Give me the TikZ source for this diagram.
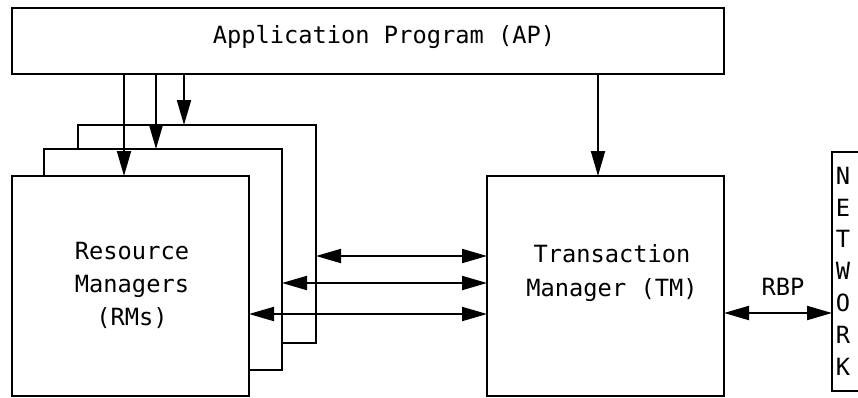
\documentclass[tikz,border=0pt]{standalone}
\usepackage{fontspec}
\setmainfont{DejaVu Sans Mono}
\usetikzlibrary{arrows.meta}
\begin{document}
\begin{tikzpicture}[x=1pt,y=-1pt,
  box/.style={draw=black,line width=2pt,fill=white,inner sep=0pt,outer sep=0pt,
    font=\fontsize{23.7}{33}\selectfont,align=center},
  con/.style={line width=2pt,-{Triangle[length=25pt,width=14pt]}},
  dcon/.style={line width=2pt,{Triangle[length=25pt,width=14pt]}-{Triangle[length=25pt,width=14pt]}},
  lbl/.style={font=\fontsize{23.7}{33}\selectfont,inner sep=0pt}]
\useasboundingbox (0,0) rectangle (858,397);
% Application program
\node[box,minimum width=712pt,minimum height=66pt] (ap) at (368,41) {};
\node[lbl] (aptext) at (384,37) {Application Program (AP)};
% stacked RMs
\node[box,minimum width=238pt,minimum height=218pt] (rm3) at (197,234) {};
\node[box,minimum width=238pt,minimum height=221pt] (rm2) at (163,259.5) {};
\node[box,minimum width=237pt,minimum height=220pt] (rm1) at (130.5,286) {};
\node[lbl,align=center,font=\fontsize{23.7}{33}\selectfont] (rmtext) at (132,285) {Resource\\Managers\\(RMs)};
% TM
\node[box,minimum width=237pt,minimum height=220pt] (tm) at (605.5,286) {};
\node[lbl,align=center,font=\fontsize{23.7}{34}\selectfont] (tmtext) at (612,273) {Transaction\\Manager (TM)};
% Network
\node[box,minimum width=38pt,minimum height=239pt] (net) at (851,271.5) {};
\node[lbl,align=center,font=\fontsize{23.7}{31.8}\selectfont] (nettext) at (843,271) {N\\E\\T\\W\\O\\R\\K};
% AP -> RM arrows
\coordinate (a1) at (124,74);
\coordinate (a2) at (156,74);
\coordinate (a3) at (184,74);
\draw[con] (a1) -- (a1 |- rm1.north);
\draw[con] (a2) -- (a2 |- rm2.north);
\draw[con] (a3) -- (a3 |- rm3.north);
% AP -> TM
\coordinate (a4) at (598,74);
\draw[con] (a4) -- (a4 |- tm.north);
% RM <-> TM
\coordinate (h1) at (400,256);
\coordinate (h2) at (400,283);
\coordinate (h3) at (400,314);
\draw[dcon] (rm3.east |- h1) -- (tm.west |- h1);
\draw[dcon] (rm2.east |- h2) -- (tm.west |- h2);
\draw[dcon] (rm1.east |- h3) -- (tm.west |- h3);
% TM <-> Network
\coordinate (h4) at (780,313);
\draw[dcon] (tm.east |- h4) -- (net.west |- h4);
\node[lbl] (rbp) at (783,287) {RBP};
\end{tikzpicture}
\end{document}
